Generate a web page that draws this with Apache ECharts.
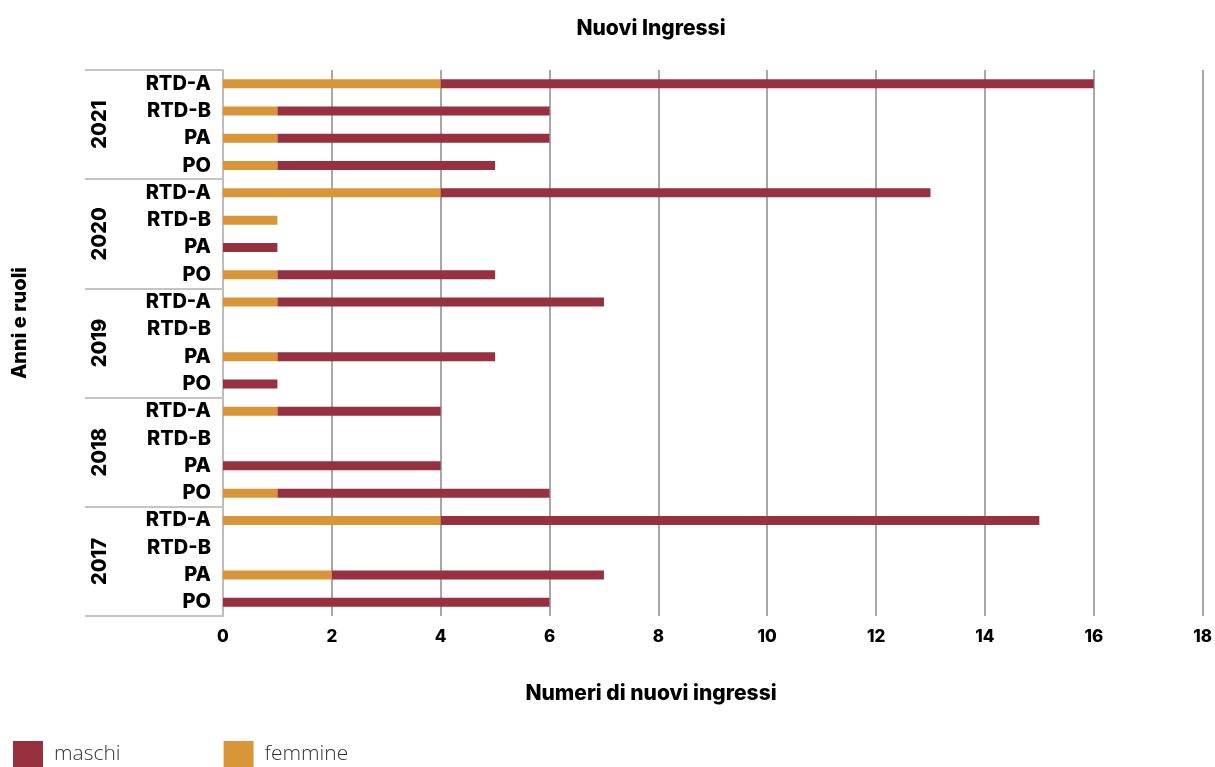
<!DOCTYPE html>
<html>
<head>
	<meta charset="utf-8">
	<title>Nuovi Ingressi</title>
	<script src="https://cdn.jsdelivr.net/npm/echarts@6/dist/echarts.min.js"></script>
	<style>
	html, body { margin: 0; height: 100%; background: #fff; }
	#main { width: 1215px; height: 767px; }
	</style>
</head>
<body>
<div id="main"></div>
<script>
	// anni dall'alto verso il basso, ruoli dentro ogni anno
	var anni = ['2021', '2020', '2019', '2018', '2017'];
	var ruoli = ['RTD-A', 'RTD-B', 'PA', 'PO'];
	// una riga per anno, nell'ordine dei ruoli
	var femmine = [
		[4, 1, 1, 1],
		[4, 1, 0, 1],
		[1, 0, 1, 0],
		[1, 0, 0, 1],
		[4, 0, 2, 0]
	];
	var maschi = [
		[12, 5, 5, 4],
		[9, 0, 1, 4],
		[6, 0, 4, 1],
		[3, 0, 4, 5],
		[11, 0, 5, 6]
	];
	var tickMax = 18;
	var tickStep = 2;

	var FONT = 'Inter';
	var COL_M = '#97303f';
	var COL_F = '#d99638';

	var categorie = [], datiF = [], datiM = [];
	anni.forEach(function (a, i) {
		ruoli.forEach(function (r, j) {
			categorie.push(a + ' ' + r);
			datiF.push(femmine[i][j]);
			datiM.push(maschi[i][j]);
		});
	});

	var myChart = echarts.init(document.getElementById('main'));

	var option = {
		animation: false,
		backgroundColor: '#fff',
		title: [{
			text: 'Nuovi Ingressi',
			left: 646, top: 13, textAlign: 'center',
			textStyle: { fontFamily: FONT, fontWeight: 800, fontSize: 21, color: '#000' }
		}, {
			text: 'Numeri di nuovi ingressi',
			left: 646, top: 678, textAlign: 'center',
			textStyle: { fontFamily: FONT, fontWeight: 800, fontSize: 21, color: '#000' }
		}],
		graphic: [{
			type: 'text',
			x: 10, y: 323,
			rotation: Math.PI / 2,
			style: {
				text: 'Anni e ruoli',
				font: '800 20px ' + FONT,
				fill: '#000',
				align: 'center',
				verticalAlign: 'top'
			}
		}],
		legend: {
			left: 8, top: 736,
			itemWidth: 30, itemHeight: 26, itemGap: 103,
			icon: 'rect',
			data: ['maschi', 'femmine'],
			textStyle: { fontFamily: 'Open Sans', fontWeight: 300, fontSize: 21, color: '#333', padding: [0, 0, 0, 6] }
		},
		grid: { left: 223, right: 10, top: 70, bottom: 151, containLabel: false },
		xAxis: {
			type: 'value',
			min: 0, max: tickMax, interval: tickStep,
			axisLine: { show: false },
			axisTick: { show: false },
			axisLabel: { margin: 12, fontFamily: FONT, fontWeight: 800, fontSize: 17, color: '#000' },
			splitLine: { show: true, lineStyle: { color: '#a8a8a8', width: 2 } }
		},
		yAxis: [{
			type: 'category',
			inverse: true,
			data: categorie,
			axisLine: { show: true, onZero: false, lineStyle: { color: '#bdbdbd', width: 2 } },
			axisTick: { show: false },
			axisLabel: {
				interval: 0, margin: 12,
				fontFamily: FONT, fontWeight: 800, fontSize: 20, color: '#000',
				formatter: function (v) { return v.split(' ')[1]; }
			}
		}, {
			type: 'category',
			inverse: true,
			position: 'left',
			offset: 0,
			data: anni,
			axisLine: { show: false },
			axisTick: { show: true, inside: false, interval: 0, length: 138, lineStyle: { color: '#c4c4c4', width: 2 } },
			axisLabel: {
				show: true, inside: false, rotate: 90, margin: 113, interval: 0,
				fontFamily: FONT, fontWeight: 800, fontSize: 20, color: '#000'
			}
		}],
		series: [{
			name: 'femmine',
			type: 'bar',
			stack: 'tot',
			barWidth: 9,
			itemStyle: { color: COL_F },
			data: datiF
		}, {
			name: 'maschi',
			type: 'bar',
			stack: 'tot',
			barWidth: 9,
			itemStyle: { color: COL_M },
			data: datiM
		}]
	};
	myChart.setOption(option);
</script>
</body>
</html>
